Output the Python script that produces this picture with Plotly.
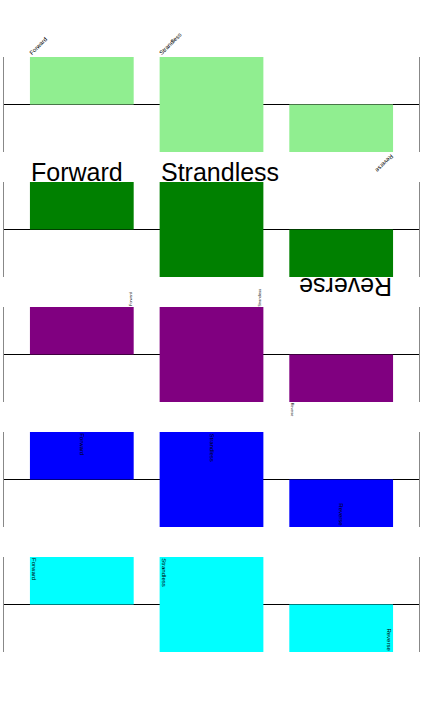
import plotly.graph_objects as go

# ---- data ----
categories = ["Forward", "Strandless", "Reverse"]
bar_base = [0, -1, 0]
bar_value = [1, 2, -1]
row_colors = ["lightgreen", "green", "purple", "blue", "cyan"]

W, H = 425, 709
row_tops = [57, 182, 307, 432, 557]
row_h = 95
x0_px, x1_px = 4, 419
half = 0.4  # half bar width in category units

FONT = "Arial, Liberation Sans, sans-serif"

# label placement per row: for each bar -> (corner_x, corner_y, xanchor, yanchor, angle, size, xshift, yshift)
def label_specs(row, i):
    top = max(bar_base[i], bar_base[i] + bar_value[i])
    bot = min(bar_base[i], bar_base[i] + bar_value[i])
    ends_up = bar_value[i] > 0
    left, right, mid = i - half, i + half, i
    if row == 0:
        if ends_up:
            return (left, top, "left", "bottom", -45, 6, -3, 0)
        return (right, bot, "right", "top", 135, 6, 3, 0)
    if row == 1:
        if ends_up:
            return (left, top, "left", "bottom", 0, 25, 0, -5)
        return (right, bot, "right", "top", 180, 25, 0, 5)
    if row == 2:
        if ends_up:
            return (right, top, "right", "bottom", -90, 3.7, 0, 0)
        return (left, bot, "left", "top", 90, 3.7, 0, 0)
    if row == 3:
        if ends_up:
            return (mid, top, "center", "top", 90, 6, 0, 0)
        return (mid, bot, "center", "bottom", 90, 6, 0, 0)
    if ends_up:
        return (left, top, "left", "top", 90, 6, 0, 0)
    return (right, bot, "right", "bottom", 90, 6, 0, 0)

fig = go.Figure()
annotations = []
for r, color in enumerate(row_colors):
    sfx = "" if r == 0 else str(r + 1)
    xa, ya = "x" + sfx, "y" + sfx
    fig.add_trace(go.Bar(
        x=categories, y=bar_value, base=bar_base, width=[2 * half] * 3,
        marker=dict(color=color, line=dict(width=0)),
        xaxis=xa, yaxis=ya, showlegend=False, hoverinfo="skip",
    ))
    top_frac = 1 - row_tops[r] / H
    bot_frac = 1 - (row_tops[r] + row_h) / H
    fig.layout["xaxis" + sfx] = dict(
        domain=[x0_px / W, x1_px / W], range=[-0.6, 2.6], type="category",
        showticklabels=False, showgrid=False, zeroline=False, showline=False,
        ticks="", anchor=ya, categoryorder="array", categoryarray=categories,
    )
    fig.layout["yaxis" + sfx] = dict(
        domain=[bot_frac, top_frac], range=[-1, 1],
        showticklabels=False, showgrid=False, ticks="",
        zeroline=True, zerolinecolor="black", zerolinewidth=1,
        showline=True, linecolor="#888888", linewidth=1, mirror=True,
        anchor=xa,
    )
    for i, cat in enumerate(categories):
        cx, cy, xan, yan, ang, size, xs, ys = label_specs(r, i)
        annotations.append(dict(
            x=cx, y=cy, xref=xa, yref=ya, text=cat, showarrow=False,
            xanchor=xan, yanchor=yan, textangle=ang, borderpad=0,
            xshift=xs, yshift=ys,
            font=dict(family=FONT, size=size, color="black"),
        ))

fig.update_layout(
    width=W, height=H, margin=dict(l=0, r=0, t=0, b=0),
    paper_bgcolor="white", plot_bgcolor="white",
    annotations=annotations, showlegend=False,
)

fig.write_html("out.html")
